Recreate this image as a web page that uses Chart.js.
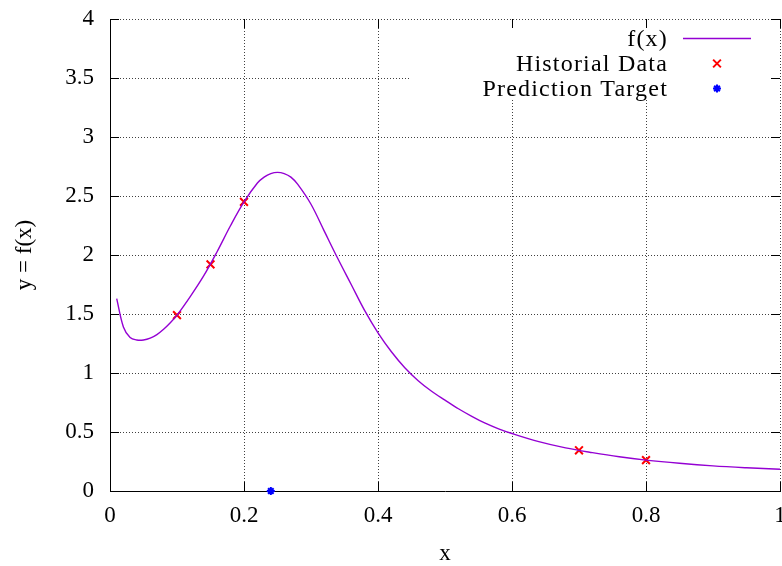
<!DOCTYPE html>
<html>
<head>
<meta charset="utf-8">
<script src="https://cdn.jsdelivr.net/npm/chart.js@4.4.0/dist/chart.umd.min.js"></script>
<style>
  html, body { margin: 0; padding: 0; background: #fff; }
</style>
</head>
<body>
<canvas id="chart" width="782" height="566"></canvas>
<script>
// sampled curve f(x)
const curveX = [0.01, 0.02, 0.03, 0.04, 0.05, 0.06, 0.07, 0.08, 0.09, 0.10,
                0.12, 0.14, 0.16, 0.18, 0.20, 0.22, 0.23, 0.24, 0.25, 0.26,
                0.27, 0.28, 0.30, 0.32, 0.34, 0.36, 0.38, 0.40, 0.42, 0.44,
                0.46, 0.48, 0.50, 0.52, 0.54, 0.56, 0.58, 0.60, 0.64, 0.68,
                0.72, 0.76, 0.80, 0.85, 0.90, 0.95, 1.00];
const curveY = [1.63, 1.39, 1.30, 1.28, 1.28, 1.295, 1.325, 1.37, 1.425, 1.49,
                1.65, 1.825, 2.03, 2.25, 2.45, 2.61, 2.66, 2.69, 2.70, 2.69,
                2.66, 2.60, 2.43, 2.20, 1.97, 1.75, 1.53, 1.34, 1.18, 1.045,
                0.935, 0.845, 0.77, 0.697, 0.633, 0.575, 0.527, 0.487, 0.418, 0.365,
                0.325, 0.29, 0.262, 0.235, 0.213, 0.197, 0.184];

// known samples
const histX = [0.10, 0.15, 0.20, 0.70, 0.80];
const histY = [1.49, 1.92, 2.45, 0.345, 0.262];

// point to predict
const targetX = [0.24];
const targetY = [0];

const xTicks = [0, 0.2, 0.4, 0.6, 0.8, 1];
const xTickLabels = ["0", "0.2", "0.4", "0.6", "0.8", "1"];
const yTicks = [0, 0.5, 1, 1.5, 2, 2.5, 3, 3.5, 4];
const yTickLabels = ["0", "0.5", "1", "1.5", "2", "2.5", "3", "3.5", "4"];

const seriesNames = ["f(x)", "Historial Data", "Prediction Target"];

const FONT = "'Liberation Serif', 'Times New Roman', serif";

function toPoints(xs, ys) {
    return xs.map((x, i) => ({ x: x, y: ys[i] }));
}

// white key box with right-aligned labels, gnuplot style
const keyPlugin = {
    id: "key",
    afterDatasetsDraw(chart) {
        const ctx = chart.ctx;
        ctx.save();
        ctx.fillStyle = "#fff";
        ctx.fillRect(411, 21, 365, 79);
        ctx.font = "24px " + FONT;
        ctx.letterSpacing = "1.2px";
        ctx.textAlign = "right";
        ctx.textBaseline = "alphabetic";
        const baselines = [46, 71, 96];
        chart.data.datasets.forEach((ds, i) => {
            const by = baselines[i];
            ctx.fillStyle = "#000";
            ctx.fillText(ds.label, 668, by);
            const cy = by - 7.5;
            ctx.strokeStyle = ds.borderColor;
            ctx.lineWidth = ds.borderWidth;
            if (ds.showLine) {
                ctx.beginPath();
                ctx.moveTo(683, cy);
                ctx.lineTo(751, cy);
                ctx.stroke();
            } else {
                ctx.fillStyle = ds.borderColor;
                Chart.helpers.drawPoint(ctx, {
                    pointStyle: ds.pointStyle,
                    radius: ds.pointRadius,
                    borderWidth: ds.borderWidth,
                    rotation: 0
                }, 717, cy);
            }
        });
        ctx.restore();
    }
};

// tick marks pointing inward on all four sides
const ticsPlugin = {
    id: "tics",
    afterDraw(chart) {
        const ctx = chart.ctx;
        const a = chart.chartArea;
        const xs = chart.scales.x;
        const ys = chart.scales.y;
        ctx.save();
        ctx.strokeStyle = "#000";
        ctx.lineWidth = 1;
        ctx.beginPath();
        xs.ticks.forEach(t => {
            const px = Math.round(xs.getPixelForValue(t.value)) + 0.5;
            ctx.moveTo(px, a.bottom);
            ctx.lineTo(px, a.bottom - 9);
            ctx.moveTo(px, a.top);
            ctx.lineTo(px, a.top + 9);
        });
        ys.ticks.forEach(t => {
            const py = Math.round(ys.getPixelForValue(t.value)) + 0.5;
            ctx.moveTo(a.left, py);
            ctx.lineTo(a.left + 9, py);
            ctx.moveTo(a.right, py);
            ctx.lineTo(a.right - 9, py);
        });
        ctx.stroke();
        ctx.restore();
    }
};

const ctx = document.getElementById("chart").getContext("2d");
const chart = new Chart(ctx, {
    type: "scatter",
    data: {
        datasets: [{
            label: seriesNames[0],
            data: toPoints(curveX, curveY),
            showLine: true,
            borderColor: "#9400d3",
            borderWidth: 1.4,
            pointRadius: 0,
            tension: 0.35
        }, {
            label: seriesNames[1],
            data: toPoints(histX, histY),
            showLine: false,
            pointStyle: "crossRot",
            pointRadius: 5.5,
            borderColor: "#ff0000",
            backgroundColor: "#ff0000",
            borderWidth: 2
        }, {
            label: seriesNames[2],
            data: toPoints(targetX, targetY),
            showLine: false,
            pointStyle: "star",
            pointRadius: 4,
            borderColor: "#0000ff",
            backgroundColor: "#0000ff",
            borderWidth: 2,
            clip: false
        }]
    },
    options: {
        responsive: false,
        animation: false,
        events: [],
        layout: { autoPadding: false, padding: { left: 0, right: 2, top: 19, bottom: 0 } },
        plugins: {
            legend: { display: false },
            tooltip: { enabled: false }
        },
        scales: {
            x: {
                type: "linear",
                min: 0,
                max: 1,
                afterBuildTicks: s => { s.ticks = xTicks.map(v => ({ value: v })); },
                afterFit: s => { s.height = 75; s.paddingLeft = 0; s.paddingRight = 0; },
                ticks: {
                    color: "#000",
                    padding: 11,
                    maxRotation: 0,
                    font: { family: FONT, size: 23 },
                    callback: (v, i) => xTickLabels[i]
                },
                grid: {
                    color: "rgba(0,0,0,0.75)",
                    lineWidth: 1,
                    drawTicks: false
                },
                border: { display: true, color: "#000", width: 1, dash: [1, 2] },
                title: {
                    display: true,
                    text: "x",
                    color: "#000",
                    font: { family: FONT, size: 23, lineHeight: 1 },
                    padding: { top: 0, bottom: 1 }
                }
            },
            y: {
                type: "linear",
                min: 0,
                max: 4,
                afterBuildTicks: s => { s.ticks = yTicks.map(v => ({ value: v })); },
                afterFit: s => { s.width = 110; s.paddingTop = 0; s.paddingBottom = 0; },
                ticks: {
                    color: "#000",
                    padding: 16,
                    font: { family: FONT, size: 23 },
                    callback: (v, i) => yTickLabels[i]
                },
                grid: {
                    color: "rgba(0,0,0,0.75)",
                    lineWidth: 1,
                    drawTicks: false
                },
                border: { display: true, color: "#000", width: 1, dash: [1, 2] },
                title: {
                    display: true,
                    text: "y = f(x)",
                    color: "#000",
                    font: { family: FONT, size: 23, lineHeight: 1 },
                    padding: { top: 13.5, bottom: 0 }
                }
            }
        }
    },
    plugins: [keyPlugin, ticsPlugin]
});
</script>
</body>
</html>
